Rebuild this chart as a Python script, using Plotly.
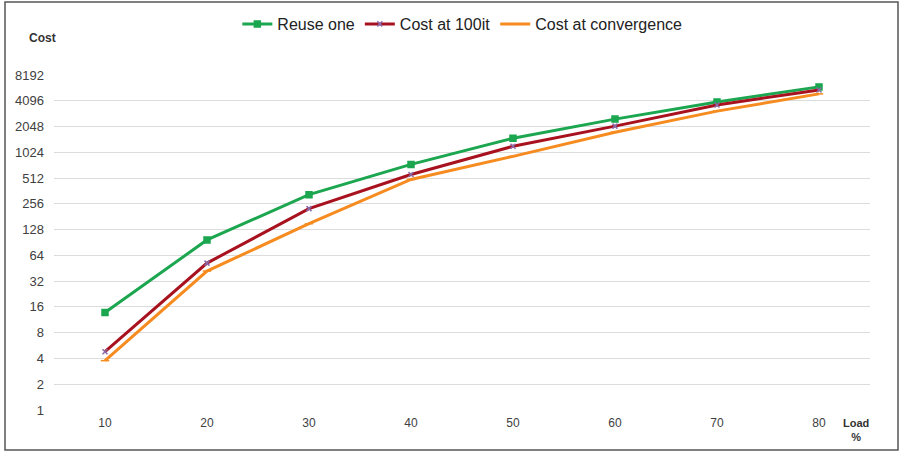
import plotly.graph_objects as go

# Network load (%) on the category axis
load = [10, 20, 30, 40, 50, 60, 70, 80]

# Cost per strategy (log2 scale)
reuse_one = [13.8, 97, 328, 740, 1496, 2500, 3960, 5950]
cost_100it = [4.8, 52, 225, 564, 1205, 2070, 3660, 5480]
cost_conv = [3.77, 42, 150, 493, 918, 1760, 3100, 4930]

y_ticks = [1, 2, 4, 8, 16, 32, 64, 128, 256, 512, 1024, 2048, 4096, 8192]

W, H = 903, 453
L, R, T, B = 54, 33, 75, 43
pw, ph = W - L - R, H - T - B


def px_x(p):
    return (p - L) / pw


def px_y(p):
    return (H - B - p) / ph


fig = go.Figure()
series = [
    ("Reuse one", reuse_one, "#1BA64F", "square", 6),
    ("Cost at 100it", cost_100it, "#A8111E", "x-thin", 5),
    ("Cost at convergence", cost_conv, "#F68B1F", "line-ew", 6),
]
for name, vals, col, sym, ms in series:
    fig.add_trace(go.Scatter(
        x=load, y=vals, name=name, mode="lines+markers",
        line=dict(color=col, width=3),
        marker=dict(symbol=sym, size=ms, color=col,
                    line=dict(color="#8A6AA8" if sym == "x-thin" else col, width=1.5)),
    ))

fig.update_layout(
    width=W, height=H,
    margin=dict(l=L, r=R, t=T, b=B, autoexpand=False),
    paper_bgcolor="white", plot_bgcolor="white",
    font=dict(family="Liberation Sans, Arial, sans-serif", size=12, color="#404040"),
    showlegend=True,
    legend=dict(orientation="h", xref="container", x=0.512, xanchor="center",
                yref="container", y=1 - 24 / H, yanchor="middle",
                font=dict(size=16, color="#222222"), itemwidth=30,
                bgcolor="rgba(0,0,0,0)"),
    xaxis=dict(range=[5, 85], tickvals=load, ticktext=[str(v) for v in load],
               showgrid=False, zeroline=False, showline=False, ticks="",
               ticklabelstandoff=4,
               tickfont=dict(size=12, color="#404040")),
    yaxis=dict(type="log", range=[0, 3.91339], tickvals=y_ticks,
               ticktext=[str(v) for v in y_ticks],
               showgrid=True, gridcolor="#DCDCDC", gridwidth=1,
               zeroline=False, showline=False, ticks="",
               ticklabelstandoff=9,
               tickfont=dict(size=13, color="#404040")),
    shapes=[dict(type="rect", xref="paper", yref="paper",
                 x0=px_x(5), x1=px_x(898), y0=px_y(450), y1=px_y(2),
                 line=dict(color="#555555", width=1.5), fillcolor="rgba(0,0,0,0)",
                 layer="below")],
    annotations=[
        dict(text="<b>Cost</b>", xref="paper", yref="paper", x=px_x(42), y=px_y(38),
             xanchor="center", yanchor="middle",
             showarrow=False, font=dict(size=12, color="#333333")),
        dict(text="<b>Load<br>%</b>", xref="paper", yref="paper", x=px_x(856), y=px_y(430),
             xanchor="center", yanchor="middle",
             showarrow=False, font=dict(size=11, color="#333333"), align="center"),
    ],
)

fig.write_html("out.html")
